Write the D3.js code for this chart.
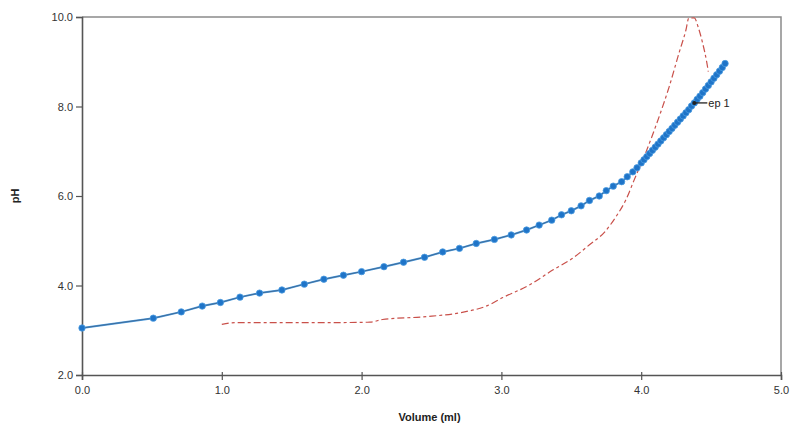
<!DOCTYPE html>
<html>
<head>
<meta charset="utf-8">
<script src="https://cdn.jsdelivr.net/npm/d3@7"></script>
<style>
  body { margin: 0; background: #fff; }
  svg { display: block; font-family: "Liberation Sans", Arial, sans-serif; }
  .tick text { fill: #333; font-size: 11px; }
  .axis-label { font-size: 11px; font-weight: bold; fill: #222; }
</style>
</head>
<body>
<div id="chart"></div>
<script>
// Titration curve (pH vs volume)
const volume = [0.00, 0.51, 0.71, 0.86, 0.99, 1.13, 1.27, 1.43, 1.59, 1.73, 1.87, 2.00,
  2.16, 2.30, 2.45, 2.58, 2.70, 2.82, 2.95, 3.07, 3.18, 3.27, 3.36, 3.43, 3.50, 3.57,
  3.63, 3.70, 3.75, 3.80, 3.86, 3.90, 3.94, 3.97, 4.00, 4.02, 4.04, 4.06, 4.08, 4.10,
  4.12, 4.14, 4.16, 4.18, 4.20, 4.22, 4.24, 4.26, 4.28, 4.30, 4.32, 4.34, 4.36, 4.38,
  4.40, 4.42, 4.44, 4.46, 4.48, 4.50, 4.52, 4.54, 4.56, 4.58, 4.60];
const pH = [3.05, 3.27, 3.41, 3.54, 3.62, 3.74, 3.83, 3.90, 4.03, 4.14, 4.23, 4.31,
  4.42, 4.52, 4.63, 4.75, 4.83, 4.94, 5.03, 5.13, 5.24, 5.35, 5.46, 5.58, 5.67, 5.78,
  5.90, 6.00, 6.12, 6.22, 6.32, 6.43, 6.54, 6.63, 6.74, 6.81, 6.88, 6.95, 7.02, 7.09,
  7.16, 7.23, 7.30, 7.37, 7.44, 7.51, 7.58, 7.65, 7.72, 7.79, 7.86, 7.93, 8.01, 8.08,
  8.16, 8.23, 8.31, 8.39, 8.47, 8.55, 8.63, 8.71, 8.79, 8.87, 8.96];

// First derivative curve (red dashed), drawn on the same scale
const derivVolume = [1.00, 1.10, 1.40, 1.70, 2.06, 2.15, 2.44, 2.72, 2.90, 3.01, 3.20,
  3.37, 3.51, 3.63, 3.74, 3.82, 3.89, 3.95, 4.03, 4.12, 4.20, 4.27, 4.32, 4.34, 4.38,
  4.41, 4.44, 4.47, 4.48];
const derivValue = [3.13, 3.17, 3.17, 3.17, 3.18, 3.24, 3.30, 3.40, 3.55, 3.73, 4.01,
  4.35, 4.61, 4.91, 5.20, 5.54, 5.91, 6.36, 6.95, 7.70, 8.44, 9.19, 9.71, 9.97, 9.98,
  9.75, 9.41, 8.97, 8.78];

const xTicks = [0, 1, 2, 3, 4, 5];
const yTicks = [2, 4, 6, 8, 10];
const endpoint = { label: "ep 1", volume: 4.38, pH: 8.08 };

const W = 794, H = 427;
const margin = { top: 17, right: 13, bottom: 52, left: 82 };
const width = W - margin.left - margin.right;
const height = H - margin.top - margin.bottom;

const svg = d3.select("#chart").append("svg")
  .attr("width", W)
  .attr("height", H);

const g = svg.append("g")
  .attr("transform", `translate(${margin.left},${margin.top})`);

const x = d3.scaleLinear().domain([0, 5]).range([0, width]);
const y = d3.scaleLinear().domain([2, 10]).range([height, 0]);

// frame (top and right)
g.append("path")
  .attr("d", `M0,0H${width}V${height}`)
  .attr("fill", "none")
  .attr("stroke", "#8a8a8a")
  .attr("stroke-width", 1.5);

// axes
const xAxis = g.append("g")
  .attr("transform", `translate(0,${height})`)
  .call(d3.axisBottom(x).tickValues(xTicks).tickFormat(d3.format(".1f")).tickSize(5).tickPadding(6));
xAxis.selectAll(".tick line").attr("y1", -3);

const yAxis = g.append("g")
  .call(d3.axisLeft(y).tickValues(yTicks).tickFormat(d3.format(".1f")).tickSize(6).tickPadding(3));

[xAxis, yAxis].forEach(a => {
  a.select(".domain").attr("stroke", "#555").attr("stroke-width", 1.6);
  a.selectAll(".tick line").attr("stroke", "#555").attr("stroke-width", 1.2);
  a.selectAll(".tick text").style("font-size", "11px").attr("fill", "#333");
});

// derivative curve
const derivPts = derivVolume.map((v, i) => [v, derivValue[i]]);
g.append("path")
  .datum(derivPts)
  .attr("fill", "none")
  .attr("stroke", "#c9504a")
  .attr("stroke-width", 1.2)
  .attr("stroke-dasharray", "7,3,3,3")
  .attr("d", d3.line().x(d => x(d[0])).y(d => y(d[1])).curve(d3.curveMonotoneX));

// titration curve
const pts = volume.map((v, i) => [v, pH[i]]);
g.append("path")
  .datum(pts)
  .attr("fill", "none")
  .attr("stroke", "#4a9be0")
  .attr("stroke-width", 2)
  .attr("d", d3.line().x(d => x(d[0])).y(d => y(d[1])));

g.append("path")
  .datum(pts)
  .attr("fill", "none")
  .attr("stroke", "#3d5f85")
  .attr("stroke-width", 0.8)
  .attr("d", d3.line().x(d => x(d[0])).y(d => y(d[1])));

g.selectAll(".dot")
  .data(pts)
  .enter().append("circle")
  .attr("class", "dot")
  .attr("cx", d => x(d[0]))
  .attr("cy", d => y(d[1]))
  .attr("r", 3.2)
  .attr("fill", "#1f74c8")
  .attr("stroke", "#4a9be0")
  .attr("stroke-width", 0.8);

// endpoint annotation
g.append("line")
  .attr("x1", x(endpoint.volume))
  .attr("x2", x(endpoint.volume) + 13)
  .attr("y1", y(endpoint.pH))
  .attr("y2", y(endpoint.pH))
  .attr("stroke", "#222")
  .attr("stroke-width", 1.3);

g.append("circle")
  .attr("cx", x(endpoint.volume))
  .attr("cy", y(endpoint.pH))
  .attr("r", 2)
  .attr("fill", "#222");

g.append("text")
  .attr("x", x(endpoint.volume) + 14)
  .attr("y", y(endpoint.pH) + 4)
  .attr("font-size", "11px")
  .attr("fill", "#222")
  .text(endpoint.label);

// axis labels
g.append("text")
  .attr("class", "axis-label")
  .attr("x", width / 2 - 2)
  .attr("y", height + 46)
  .attr("text-anchor", "middle")
  .text("Volume (ml)");

g.append("text")
  .attr("class", "axis-label")
  .attr("transform", "rotate(-90)")
  .attr("x", -(y(6)))
  .attr("y", -63)
  .attr("text-anchor", "middle")
  .text("pH");
</script>
</body>
</html>
